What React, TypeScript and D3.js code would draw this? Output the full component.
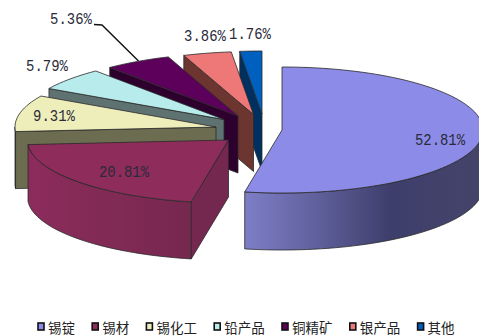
import React from "react";
import * as d3 from "d3";

// Export mix of tin products, in percent
const categories = ["锡锭", "锡材", "锡化工", "铅产品", "铜精矿", "银产品", "其他"];
const shares = [52.81, 20.81, 9.31, 5.79, 5.36, 3.86, 1.76];
const shareLabels = ["52.81%", "20.81%", "9.31%", "5.79%", "5.36%", "3.86%", "1.76%"];

// Face and wall colours per slice
const topColors = ["#8c8ce8", "#8e2c5c", "#eeeebb", "#b8ecec", "#5c005c", "#ee7777", "#0060c0"];
const wallColors = ["#5a5a96", "#74284f", "#6c6c50", "#5e7272", "#2e002e", "#6c3530", "#003060"];

// Layout: where the tip of each exploded slice sits, and its label centre
const tips: [number, number][] = [[282, 130], [228.5, 140], [216, 127], [224, 119.5], [238, 116], [253.5, 114.5], [262, 114]];
const labelSpots: [number, number][] = [[440, 141], [124, 173], [54, 117], [47, 67], [71, 20], [205, 37], [250, 35]];

const WIDTH = 479;
const HEIGHT = 336;
const RX = 201;
const RY = 63;
const DEPTH = 57;
const OUTLINE = "#2a2a2a";

const slices = d3.pie<number>().sort(null)(shares);
const line = d3.line<[number, number]>().curve(d3.curveLinear);

// Point on a slice's elliptical rim; angle 0 is straight up, running clockwise
const rimPoint = (tip: [number, number], a: number, drop = 0): [number, number] => [
  tip[0] + Math.sin(a) * RX,
  tip[1] - Math.cos(a) * RY + drop,
];

const rimPoints = (tip: [number, number], a0: number, a1: number, drop = 0) => {
  const n = Math.max(2, Math.ceil(((a1 - a0) / Math.PI) * 90));
  return d3.range(n + 1).map((i) => rimPoint(tip, a0 + ((a1 - a0) * i) / n, drop));
};

const legendX = (i: number) =>
  41 + d3.sum(categories.slice(0, i), (c) => c.length * 13.6 + 27);

export default function App() {
  return (
    <svg
      width={WIDTH}
      height={HEIGHT}
      viewBox={`0 0 ${WIDTH} ${HEIGHT}`}
      style={{ position: "absolute", left: 0, top: 0, background: "#fff" }}
    >
      <defs>
        <linearGradient id="rim0" gradientUnits="userSpaceOnUse" x1={247} x2={479} y1={0} y2={0}>
          <stop offset="0" stopColor="#7d7dc6" />
          <stop offset="0.3" stopColor="#60609c" />
          <stop offset="0.62" stopColor="#3e3e6c" />
          <stop offset="1" stopColor="#44446a" />
        </linearGradient>
        <linearGradient id="rim1" gradientUnits="userSpaceOnUse" x1={28} x2={192} y1={0} y2={0}>
          <stop offset="0" stopColor="#8c2c5c" />
          <stop offset="1" stopColor="#76284f" />
        </linearGradient>
      </defs>

      {/* Slices are painted from the back of the pie to the front */}
      {slices
        .map((s, i) => ({ s, i }))
        .reverse()
        .map(({ s, i }) => {
          const tip = tips[i];
          const { startAngle: a0, endAngle: a1 } = s;
          const rimStart = Math.max(a0, Math.PI / 2);
          const rimEnd = Math.min(a1, (3 * Math.PI) / 2);
          const showWall = a0 >= Math.PI;
          const showRim = rimEnd > rimStart;
          const edge = rimPoint(tip, a0);
          const edgeLow = rimPoint(tip, a0, DEPTH);
          const rimFill = i < 2 ? `url(#rim${i})` : wallColors[i];
          return (
            <g key={categories[i]} stroke={OUTLINE} strokeWidth={0.8} strokeLinejoin="round">
              {showWall && (
                <path
                  d={`${line([tip, edge, edgeLow, [tip[0], tip[1] + DEPTH]])}Z`}
                  fill={wallColors[i]}
                />
              )}
              {showRim && (
                <path
                  d={`${line([
                    ...rimPoints(tip, rimStart, rimEnd),
                    ...rimPoints(tip, rimStart, rimEnd, DEPTH).reverse(),
                  ])}Z`}
                  fill={rimFill}
                />
              )}
              <path d={`${line([tip, ...rimPoints(tip, a0, a1)])}Z`} fill={topColors[i]} />
            </g>
          );
        })}

      {/* Leader line of the copper concentrate label */}
      <path d="M94,24.5L102,25L138.5,61" fill="none" stroke="#111" strokeWidth={1.4} />

      <g
        fontFamily="'Liberation Mono', monospace"
        fontSize={17}
        fill="#2a2a3a"
        textAnchor="middle"
        dominantBaseline="central"
      >
        {shareLabels.map((t, i) => (
          <text
            key={t}
            transform={`translate(${labelSpots[i][0]},${labelSpots[i][1]}) scale(0.82,1)`}
          >
            {t}
          </text>
        ))}
      </g>

      <g>
        {categories.map((c, i) => (
          <g key={c}>
            <rect
              x={legendX(i) - 3}
              y={323}
              width={6}
              height={7}
              fill={topColors[i]}
              stroke="#111"
              strokeWidth={1.6}
            />
            <text
              x={legendX(i) + 7}
              y={327}
              fontFamily="'Noto Sans CJK SC', sans-serif"
              fontSize={13.5}
              fill="#222"
              dominantBaseline="central"
            >
              {c}
            </text>
          </g>
        ))}
      </g>
    </svg>
  );
}
